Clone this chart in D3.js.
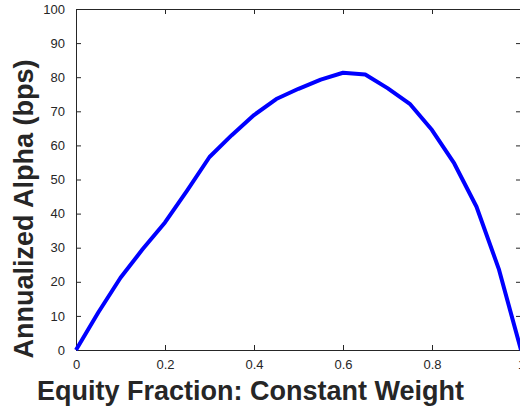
<!DOCTYPE html>
<html>
<head>
<meta charset="utf-8">
<script src="https://cdn.jsdelivr.net/npm/d3@7"></script>
<style>
  html, body { margin: 0; padding: 0; background: #fff; }
  svg { display: block; }
</style>
</head>
<body>
<svg id="chart" width="520" height="410"></svg>
<script>
// Equity fraction (constant weight) and the resulting annualized alpha in bps
const equityFraction = [0, 0.05, 0.1, 0.15, 0.2, 0.25, 0.3, 0.35, 0.4, 0.45, 0.5,
                        0.55, 0.6, 0.65, 0.7, 0.75, 0.8, 0.85, 0.9, 0.95, 1.0];
const alphaBps = [0, 11, 21.2, 29.6, 37.4, 46.8, 56.6, 63, 68.9, 73.6, 76.6,
                  79.3, 81.3, 80.8, 76.8, 72.2, 64.5, 54.7, 42, 23.8, 0];
const xTicks = [0, 0.2, 0.4, 0.6, 0.8, 1];
const yTicks = [0, 10, 20, 30, 40, 50, 60, 70, 80, 90, 100];

const svg = d3.select("#chart");
const plotLeft = 76, plotRight = 521, plotTop = 9, plotBottom = 350;
const axisColor = "#262626";
const font = "'Liberation Sans', Arial, Helvetica, sans-serif";

const x = d3.scaleLinear().domain([0, 1]).range([plotLeft, plotRight]);
const y = d3.scaleLinear().domain([0, 100]).range([plotBottom, plotTop]);

const tickLen = 5;

function styleAxis(g) {
  g.selectAll(".domain").attr("stroke", axisColor).attr("stroke-width", 1);
  g.selectAll(".tick line").attr("stroke", axisColor).attr("stroke-width", 1);
  g.selectAll(".tick text")
    .attr("fill", axisColor)
    .style("font-family", font)
    .style("font-size", "13px");
}

// bottom axis (ticks point inward)
svg.append("g")
  .attr("transform", `translate(0,${plotBottom})`)
  .call(d3.axisBottom(x).tickValues(xTicks).tickFormat(d3.format("~g"))
        .tickSizeInner(-tickLen).tickSizeOuter(0).tickPadding(10))
  .call(styleAxis);

// top axis: ticks only
svg.append("g")
  .attr("transform", `translate(0,${plotTop})`)
  .call(d3.axisTop(x).tickValues(xTicks).tickFormat("")
        .tickSizeInner(-tickLen).tickSizeOuter(0))
  .call(styleAxis);

// left axis
svg.append("g")
  .attr("transform", `translate(${plotLeft},0)`)
  .call(d3.axisLeft(y).tickValues(yTicks)
        .tickSizeInner(-tickLen).tickSizeOuter(0).tickPadding(11))
  .call(styleAxis);

// right axis: ticks only
svg.append("g")
  .attr("transform", `translate(${plotRight},0)`)
  .call(d3.axisRight(y).tickValues(yTicks).tickFormat("")
        .tickSizeInner(-tickLen).tickSizeOuter(0))
  .call(styleAxis);

// alpha curve
const line = d3.line()
  .x((d, i) => x(equityFraction[i]))
  .y(d => y(d));

svg.append("path")
  .datum(alphaBps)
  .attr("d", line)
  .attr("fill", "none")
  .attr("stroke", "#0000ff")
  .attr("stroke-width", 4)
  .attr("stroke-linejoin", "round")
  .attr("stroke-linecap", "butt");

// axis titles
svg.append("text")
  .attr("x", 37)
  .attr("y", 400)
  .attr("text-anchor", "start")
  .attr("fill", axisColor)
  .style("font-family", font)
  .style("font-weight", "bold")
  .style("font-size", "27px")
  .text("Equity Fraction: Constant Weight");

svg.append("text")
  .attr("transform", "translate(33,209) rotate(-90)")
  .attr("text-anchor", "middle")
  .attr("fill", axisColor)
  .style("font-family", font)
  .style("font-weight", "bold")
  .style("font-size", "27px")
  .text("Annualized Alpha (bps)");
</script>
</body>
</html>
